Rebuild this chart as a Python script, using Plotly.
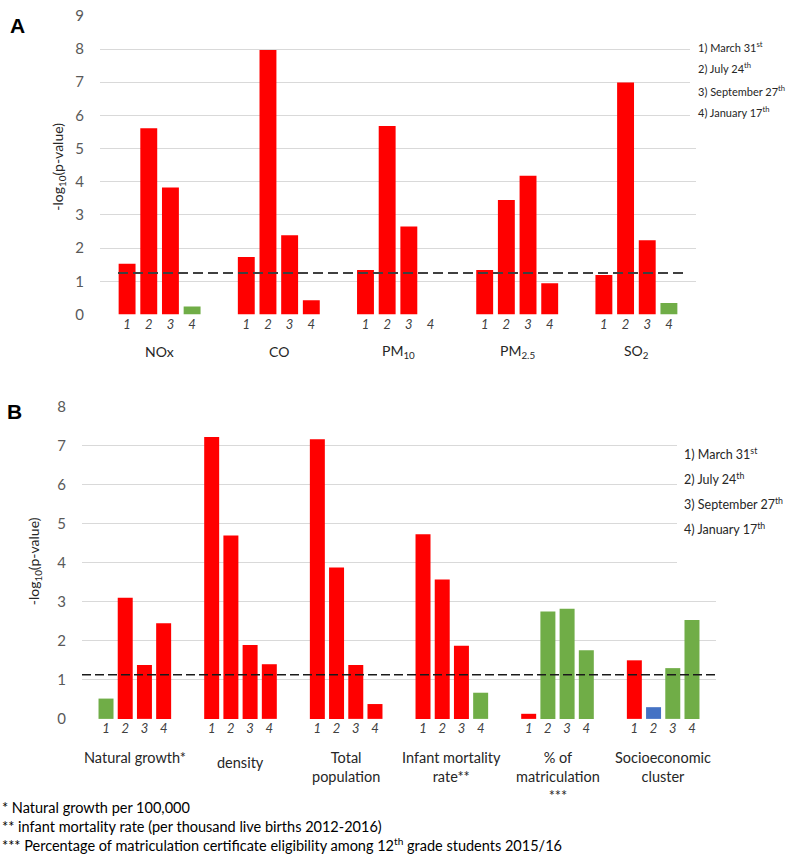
import plotly.graph_objects as go

W, H = 789, 862

# time points shown in the legend text
dates = [
    "1) March 31<sup>st</sup>",
    "2) July 24<sup>th</sup>",
    "3) September 27<sup>th</sup>",
    "4) January 17<sup>th</sup>",
]
bar_labels = ["1", "2", "3", "4"]

# panel A: air pollutants, -log10(p) per time point
pollutants = ["NOx", "CO", "PM<sub>10</sub>", "PM<sub>2.5</sub>", "SO<sub>2</sub>"]
pollutant_vals = [
    [1.53, 5.61, 3.83, 0.24],
    [1.73, 7.97, 2.39, 0.43],
    [1.34, 5.68, 2.65, 0.0],
    [1.34, 3.45, 4.18, 0.94],
    [1.19, 6.99, 2.24, 0.35],
]
# direction of association: + positive, - negative, 0 other
pollutant_dir = [
    ["+", "+", "+", "-"],
    ["+", "+", "+", "+"],
    ["+", "+", "+", "+"],
    ["+", "+", "+", "+"],
    ["+", "+", "+", "-"],
]
threshold_a = 1.25

# panel B: socio-demographic factors
factors = [
    "Natural growth*",
    "density",
    "Total<br>population",
    "Infant mortality<br>rate**",
    "% of<br>matriculation<br>***",
    "Socioeconomic<br>cluster",
]
factor_vals = [
    [0.52, 3.10, 1.38, 2.45],
    [7.22, 4.70, 1.89, 1.40],
    [7.16, 3.88, 1.38, 0.38],
    [4.73, 3.57, 1.87, 0.67],
    [0.13, 2.75, 2.82, 1.76],
    [1.50, 0.30, 1.30, 2.53],
]
factor_dir = [
    ["-", "+", "+", "+"],
    ["+", "+", "+", "+"],
    ["+", "+", "+", "+"],
    ["+", "+", "+", "-"],
    ["+", "-", "-", "-"],
    ["+", "0", "-", "-"],
]
threshold_b = 1.13

footnotes = [
    "* Natural growth per 100,000",
    "** infant mortality rate (per thousand live births 2012-2016)",
    "*** Percentage of matriculation certificate eligibility among 12<sup>th</sup> grade students 2015/16",
]

COLORS = {"+": "#FF0000", "-": "#70AD47", "0": "#4472C4"}
FONT = "Lato"
GROUP_STEP = 5.5


def px(x):
    return x / W


def py(y):
    return 1 - y / H


def bar_positions(n_groups):
    return [g * GROUP_STEP + b for g in range(n_groups) for b in range(4)]


def label(x, y, text, size, color="#262626", family=FONT, xanchor="center", **kw):
    return dict(x=px(x), y=py(y), xref="paper", yref="paper", text=text,
                showarrow=False, xanchor=xanchor, yanchor="middle",
                font=dict(family=family, size=size, color=color), **kw)


fig = go.Figure()

xa = bar_positions(len(pollutants))
fig.add_trace(go.Bar(
    x=xa,
    y=[v for row in pollutant_vals for v in row],
    marker=dict(color=[COLORS[d] for row in pollutant_dir for d in row], line=dict(width=0)),
    width=0.78,
    xaxis="x", yaxis="y",
    showlegend=False,
))

xb = bar_positions(len(factors))
fig.add_trace(go.Bar(
    x=xb,
    y=[v for row in factor_vals for v in row],
    marker=dict(color=[COLORS[d] for row in factor_dir for d in row], line=dict(width=0)),
    width=0.78,
    xaxis="x2", yaxis="y2",
    showlegend=False,
))

xaxis_common = dict(
    showgrid=False, zeroline=False, showline=False, ticks="",
    tickfont=dict(family=FONT, size=13, color="#404040", style="italic"),
)
yaxis_common = dict(
    dtick=1, gridcolor="#D9D9D9", gridwidth=1, zeroline=False, showline=False,
    tickfont=dict(family=FONT, size=15, color="#595959"),
)

fig.update_layout(
    width=W, height=H,
    autosize=False,
    margin=dict(l=0, r=0, t=0, b=0),
    paper_bgcolor="white",
    plot_bgcolor="white",
    xaxis=dict(
        domain=[px(100), px(696)],
        range=[-1.25, GROUP_STEP * len(pollutants) - 1.25],
        tickvals=xa, ticktext=bar_labels * len(pollutants),
        anchor="y",
        **xaxis_common,
    ),
    yaxis=dict(
        domain=[py(311), py(6)],
        range=[0, 9],
        anchor="x",
        ticklabelstandoff=15,
        **yaxis_common,
    ),
    xaxis2=dict(
        domain=[px(82), px(716)],
        range=[-1.25, GROUP_STEP * len(factors) - 1.25],
        tickvals=xb, ticktext=bar_labels * len(factors),
        anchor="y2",
        **xaxis_common,
    ),
    yaxis2=dict(
        domain=[py(724), py(405)],
        range=[0, 8],
        anchor="x2",
        ticklabelstandoff=15,
        **yaxis_common,
    ),
)

# significance threshold lines
fig.add_shape(type="line", xref="x", yref="y", x0=-0.42, x1=25.8,
              y0=threshold_a, y1=threshold_a,
              line=dict(color="#404040", width=2, dash="10px,5px"))
fig.add_shape(type="line", xref="x2 domain", yref="y2", x0=0, x1=1,
              y0=threshold_b, y1=threshold_b,
              line=dict(color="#1a1a1a", width=1.6, dash="9px,4px"))

# white boxes behind the date keys (hide gridlines)
fig.add_shape(type="rect", xref="paper", yref="paper",
              x0=px(690), x1=1, y0=py(116), y1=py(28),
              fillcolor="white", line=dict(width=0), layer="above")
fig.add_shape(type="rect", xref="paper", yref="paper",
              x0=px(677), x1=1, y0=py(570), y1=py(440),
              fillcolor="white", line=dict(width=0), layer="above")

ann = []

# category labels
for g, name in enumerate(pollutants):
    ann.append(dict(x=g * GROUP_STEP + 1.5, xref="x", y=py(349), yref="paper",
                    text=name, showarrow=False, xanchor="center", yanchor="middle",
                    font=dict(family=FONT, size=14, color="#262626")))
for g, name in enumerate(factors):
    # the single-line "density" label sits a little lower in the original
    top = 758 if name == "density" else 753
    ann.append(dict(x=g * GROUP_STEP + 1.5, xref="x2", y=py(top), yref="paper",
                    text=name, showarrow=False, xanchor="center", yanchor="top",
                    font=dict(family=FONT, size=14.5, color="#262626")))

# date keys
for i, d in enumerate(dates):
    ann.append(label(696, [37, 59, 82, 104][i], d, 11, xanchor="left"))
    ann.append(label(682, [453, 479, 504, 530][i], d, 12.5, xanchor="left"))

# y axis titles
ytitle = "-log<sub>10</sub>(p-value)"
ann.append(label(59, 160, ytitle, 14, textangle=-90))
ann.append(label(34, 563, ytitle, 14, textangle=-90))

# panel letters
ann.append(label(17, 16, "<b>A</b>", 21, color="black", family="Liberation Sans"))
ann.append(label(14, 410, "<b>B</b>", 21, color="black", family="Liberation Sans"))

# footnotes
for i, t in enumerate(footnotes):
    ann.append(label(0, [815, 834, 852][i], t, 14.5, color="#000000", xanchor="left"))

fig.update_layout(annotations=ann)

# drop the default 8px page margin so the figure fills the window exactly
fig.write_html("out.html", config={"displayModeBar": False},
               post_script="document.body.style.margin='0';")
